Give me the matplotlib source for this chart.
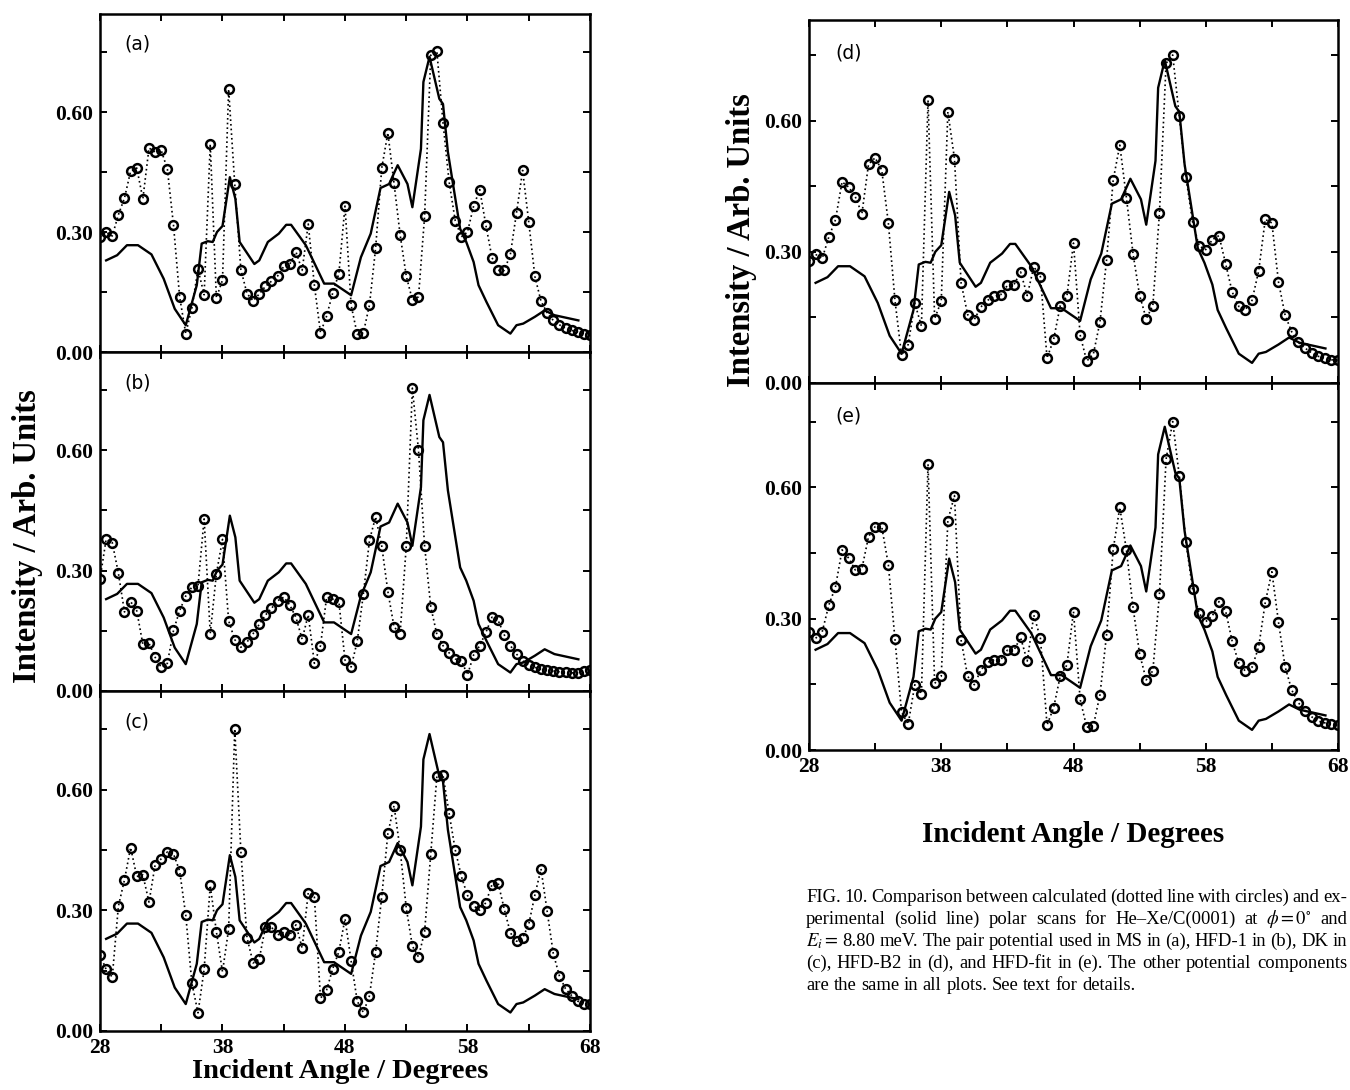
import matplotlib
matplotlib.use("Agg")
import matplotlib.pyplot as plt
import matplotlib.transforms as mtransforms
from matplotlib.ticker import FixedLocator

# ---------------- data ----------------
angle = [28.0, 28.5, 29.0, 29.5, 30.0, 30.5, 31.0, 31.5, 32.0, 32.5,
         33.0, 33.5, 34.0, 34.5, 35.0, 35.5, 36.0, 36.5, 37.0, 37.5,
         38.0, 38.5, 39.0, 39.5, 40.0, 40.5, 41.0, 41.5, 42.0, 42.5,
         43.0, 43.5, 44.0, 44.5, 45.0, 45.5, 46.0, 46.5, 47.0, 47.5,
         48.0, 48.5, 49.0, 49.5, 50.0, 50.5, 51.0, 51.5, 52.0, 52.5,
         53.0, 53.5, 54.0, 54.5, 55.0, 55.5, 56.0, 56.5, 57.0, 57.5,
         58.0, 58.5, 59.0, 59.5, 60.0, 60.5, 61.0, 61.5, 62.0, 62.5,
         63.0, 63.5, 64.0, 64.5, 65.0, 65.5, 66.0, 66.5, 67.0, 67.5, 68.0]

calc_a = [0.288, 0.300, 0.290, 0.343, 0.385, 0.452, 0.460, 0.383, 0.510, 0.500,
          0.504, 0.457, 0.317, 0.138, 0.046, 0.110, 0.207, 0.143, 0.520, 0.135,
          0.180, 0.657, 0.420, 0.206, 0.146, 0.128, 0.145, 0.164, 0.177, 0.190,
          0.214, 0.220, 0.250, 0.204, 0.320, 0.167, 0.048, 0.090, 0.148, 0.196,
          0.365, 0.117, 0.044, 0.048, 0.118, 0.260, 0.460, 0.548, 0.422, 0.293,
          0.190, 0.130, 0.138, 0.340, 0.742, 0.752, 0.573, 0.425, 0.328, 0.288,
          0.300, 0.365, 0.406, 0.317, 0.236, 0.204, 0.204, 0.244, 0.348, 0.454,
          0.325, 0.189, 0.127, 0.098, 0.079, 0.068, 0.060, 0.054, 0.050, 0.046, 0.043]

calc_b = [0.279, 0.378, 0.370, 0.294, 0.197, 0.223, 0.200, 0.116, 0.119, 0.084,
          0.059, 0.069, 0.151, 0.200, 0.237, 0.259, 0.262, 0.429, 0.143, 0.292,
          0.378, 0.175, 0.128, 0.109, 0.122, 0.143, 0.166, 0.189, 0.206, 0.225,
          0.234, 0.214, 0.183, 0.129, 0.190, 0.069, 0.113, 0.234, 0.229, 0.223,
          0.077, 0.060, 0.124, 0.242, 0.376, 0.434, 0.361, 0.248, 0.160, 0.143,
          0.361, 0.755, 0.600, 0.361, 0.210, 0.141, 0.113, 0.095, 0.080, 0.076,
          0.040, 0.090, 0.113, 0.146, 0.184, 0.176, 0.140, 0.113, 0.092, 0.075,
          0.065, 0.059, 0.054, 0.052, 0.050, 0.048, 0.047, 0.045, 0.046, 0.050, 0.052]

calc_c = [0.190, 0.153, 0.134, 0.310, 0.376, 0.456, 0.384, 0.388, 0.320, 0.413,
          0.428, 0.445, 0.440, 0.398, 0.288, 0.119, 0.045, 0.153, 0.362, 0.247,
          0.147, 0.253, 0.751, 0.446, 0.232, 0.169, 0.179, 0.258, 0.258, 0.239,
          0.245, 0.239, 0.264, 0.206, 0.344, 0.333, 0.081, 0.102, 0.155, 0.197,
          0.279, 0.174, 0.074, 0.046, 0.088, 0.197, 0.334, 0.491, 0.560, 0.451,
          0.306, 0.211, 0.184, 0.247, 0.440, 0.633, 0.636, 0.541, 0.450, 0.384,
          0.337, 0.311, 0.300, 0.319, 0.364, 0.368, 0.303, 0.244, 0.223, 0.231,
          0.265, 0.338, 0.403, 0.298, 0.193, 0.137, 0.105, 0.088, 0.074, 0.067, 0.066]

calc_d = [0.279, 0.294, 0.285, 0.334, 0.373, 0.460, 0.448, 0.426, 0.387, 0.500,
          0.515, 0.487, 0.366, 0.189, 0.063, 0.088, 0.183, 0.130, 0.647, 0.147,
          0.187, 0.620, 0.513, 0.229, 0.156, 0.145, 0.174, 0.189, 0.198, 0.202,
          0.223, 0.225, 0.254, 0.200, 0.266, 0.243, 0.057, 0.100, 0.177, 0.198,
          0.320, 0.110, 0.050, 0.066, 0.139, 0.281, 0.464, 0.544, 0.424, 0.296,
          0.200, 0.147, 0.177, 0.389, 0.731, 0.750, 0.610, 0.471, 0.369, 0.313,
          0.305, 0.328, 0.337, 0.273, 0.208, 0.175, 0.168, 0.189, 0.256, 0.374,
          0.366, 0.231, 0.155, 0.117, 0.093, 0.080, 0.069, 0.061, 0.057, 0.053, 0.052]

calc_e = [0.270, 0.255, 0.270, 0.331, 0.372, 0.457, 0.438, 0.411, 0.414, 0.487,
          0.510, 0.510, 0.423, 0.253, 0.086, 0.059, 0.149, 0.128, 0.653, 0.152,
          0.168, 0.524, 0.581, 0.251, 0.168, 0.149, 0.183, 0.200, 0.206, 0.206,
          0.228, 0.228, 0.257, 0.203, 0.308, 0.255, 0.057, 0.097, 0.169, 0.194,
          0.316, 0.116, 0.052, 0.055, 0.126, 0.263, 0.458, 0.554, 0.457, 0.326,
          0.219, 0.160, 0.181, 0.356, 0.664, 0.750, 0.626, 0.476, 0.368, 0.312,
          0.293, 0.306, 0.339, 0.318, 0.248, 0.198, 0.180, 0.189, 0.235, 0.337,
          0.407, 0.292, 0.190, 0.137, 0.108, 0.090, 0.076, 0.066, 0.062, 0.059, 0.057]

exp_angle = [28.5, 29.4, 30.2, 31.1, 32.2, 33.2, 34.1, 35.0, 35.9, 36.3,
             36.8, 37.2, 37.55, 38.0, 38.6, 39.05, 39.4, 40.6, 41.0, 41.7,
             42.6, 43.2, 43.6, 44.8, 46.3, 47.1, 48.5, 49.3, 50.1, 50.9,
             51.6, 52.3, 53.1, 53.5, 54.2, 54.4, 54.9, 55.7, 56.0, 56.4,
             57.4, 57.9, 58.5, 58.9, 59.55, 60.5, 61.5, 62.0, 62.55, 63.5,
             64.3, 65.1, 67.05]
exp_intensity = [0.229, 0.242, 0.267, 0.267, 0.244, 0.183, 0.108, 0.067, 0.167, 0.271,
                 0.277, 0.275, 0.300, 0.315, 0.437, 0.383, 0.275, 0.220, 0.229, 0.275,
                 0.296, 0.318, 0.318, 0.267, 0.171, 0.171, 0.142, 0.237, 0.296, 0.410,
                 0.420, 0.467, 0.420, 0.362, 0.508, 0.675, 0.738, 0.633, 0.620, 0.500,
                 0.308, 0.275, 0.225, 0.167, 0.125, 0.067, 0.046, 0.067, 0.071, 0.088,
                 0.104, 0.092, 0.079]

panel_labels = ["(a)", "(b)", "(c)", "(d)", "(e)"]
x_ticks = [28, 38, 48, 58, 68]
x_minor = [33, 43, 53, 63]
y_ticks = [0.00, 0.30, 0.60]
y_minor = [0.15, 0.45, 0.75]
y_label = "Intensity / Arb. Units"
x_label = "Incident Angle / Degrees"
caption_lines = [
    ["FIG.", "10.", "Comparison", "between", "calculated", "(dotted", "line", "with", "circles)", "and", "ex-"],
    ["perimental", "(solid", "line)", "polar", "scans", "for", "He\u2013Xe/C(0001)", "at", r"$\phi=0^{\circ}$", "and"],
    [r"$E_i=$", "8.80", "meV.", "The", "pair", "potential", "used", "in", "MS", "in", "(a),", "HFD-1", "in", "(b),", "DK", "in"],
    ["(c),", "HFD-B2", "in", "(d),", "and", "HFD-fit", "in", "(e).", "The", "other", "potential", "components"],
    ["are", "the", "same", "in", "all", "plots.", "See", "text", "for", "details."],
]

# ---------------- figure ----------------
plt.rcParams["mathtext.fontset"] = "stix"
W, H = 1350, 1090
fig = plt.figure(figsize=(W / 100, H / 100), dpi=100)


def rect(x0, y0, x1, y1):
    return [x0 / W, 1 - y1 / H, (x1 - x0) / W, (y1 - y0) / H]


panels = [
    (rect(100, 14, 590, 352), calc_a, 0.845, False),
    (rect(100, 352, 590, 691), calc_b, 0.845, False),
    (rect(100, 691, 590, 1031), calc_c, 0.845, True),
    (rect(809, 20, 1338, 383), calc_d, 0.83, False),
    (rect(809, 383, 1338, 750), calc_e, 0.838, True),
]

tick_font = dict(family="Liberation Serif", weight="bold", size=15.5)

for (r, calc, ytop, show_x), lab in zip(panels, panel_labels):
    ax = fig.add_axes(r)
    ax.plot(exp_angle, exp_intensity, color="black", lw=1.7, zorder=2)
    ax.plot(angle, calc, color="black", lw=1.2, linestyle=(0, (1, 1.8)),
            marker="o", ms=6.3, mfc="none", mec="black", mew=1.8, zorder=3)
    ax.set_xlim(28, 68)
    ax.set_ylim(0, ytop)
    ax.xaxis.set_major_locator(FixedLocator(x_ticks))
    ax.xaxis.set_minor_locator(FixedLocator(x_minor))
    ax.yaxis.set_major_locator(FixedLocator(y_ticks))
    ax.yaxis.set_minor_locator(FixedLocator(y_minor))
    ax.tick_params(which="both", direction="in", top=True, right=True,
                   length=5, width=1.4, pad=5)
    ax.set_yticklabels(["%.2f" % v for v in y_ticks], fontdict=tick_font)
    if show_x:
        ax.set_xticklabels([str(v) for v in x_ticks], fontdict=tick_font)
    else:
        ax.set_xticklabels([])
    for s in ax.spines.values():
        s.set_linewidth(1.8)
    ax.text(0.05, 0.91, lab, transform=ax.transAxes, fontsize=13.5,
            family="DejaVu Sans", ha="left", va="center")

ylab_font = dict(family="Liberation Serif", weight="bold", size=23.5)
fig.text(28 / W, 1 - 536 / H, y_label, rotation=90, ha="center", va="center", **ylab_font)
fig.text(742 / W, 1 - 240 / H, y_label, rotation=90, ha="center", va="center", **ylab_font)
fig.text(340 / W, 1 - 1072 / H, x_label, ha="center", va="center",
         family="Liberation Serif", weight="bold", size=20.5)
fig.text(1073 / W, 1 - 834 / H, x_label, ha="center", va="center",
         family="Liberation Serif", weight="bold", size=21)

# ---------------- caption (justified, kept inside the figure) ----------------
renderer = fig.canvas.get_renderer()
ident = mtransforms.IdentityTransform()
cap_size = 13.4
cap_kw = dict(family="Liberation Serif", size=cap_size, transform=ident, va="baseline", ha="left")
x0 = 806
right_edge = 1347
space = 0.25 * cap_size * 100 / 72
baselines = [902, 924, 946, 968, 990]
for li, (words, yb) in enumerate(zip(caption_lines, baselines)):
    texts = [fig.text(0, 0, w, **cap_kw) for w in words]
    widths = [t.get_window_extent(renderer).width for t in texts]
    justify = li < len(caption_lines) - 1
    if justify and len(words) > 1:
        gap = (right_edge - x0 - sum(widths)) / (len(words) - 1)
        gap = max(gap, 2.0)
    else:
        gap = space
    x = x0
    for t, w in zip(texts, widths):
        t.set_position((x, H - yb))
        x += w + gap

fig.savefig("out.png", dpi=100)
